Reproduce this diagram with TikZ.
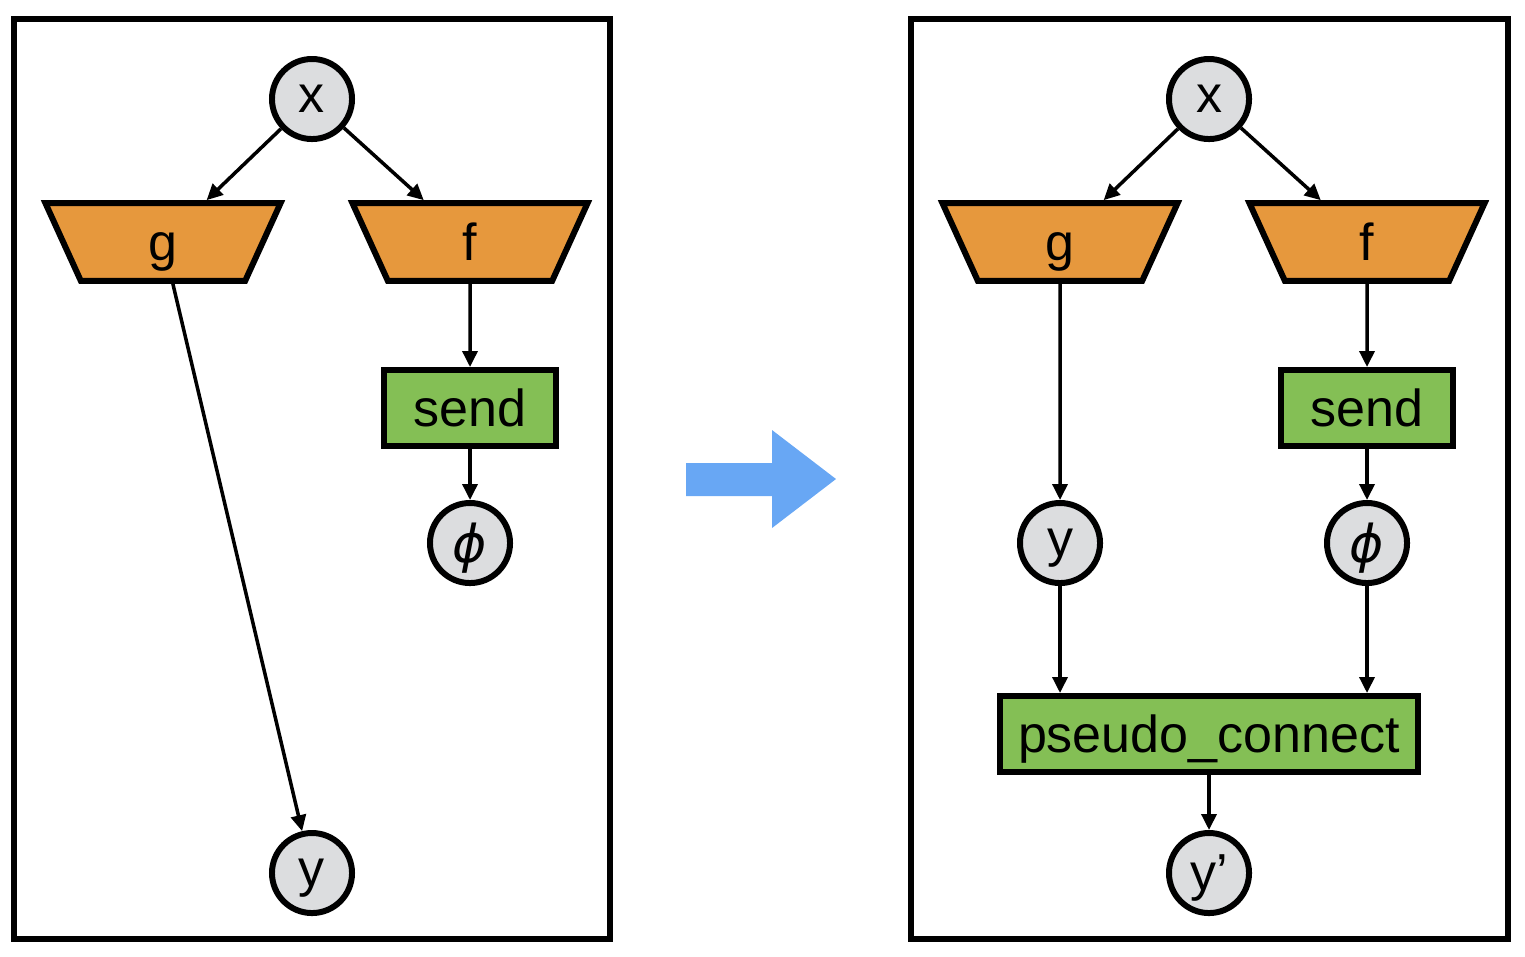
\documentclass[tikz,border=0pt]{standalone}
\usepackage{fontspec}
\setmainfont{Liberation Sans}
\newfontfamily\greekfont{DejaVu Sans}
\definecolor{varfill}{RGB}{220, 221, 223}
\definecolor{opfill}{RGB}{230, 152, 61}
\definecolor{commfill}{RGB}{132, 191, 85}
\definecolor{flowblue}{RGB}{104, 167, 244}
\usetikzlibrary{shapes.geometric, arrows.meta}
\tikzset{
    every node/.style={font=\fontsize{14.8}{17}\selectfont, text depth=0pt},
    var/.style={circle, draw, line width=1.7pt, fill=varfill,
        minimum size=0.8cm, inner sep=0pt},
    op/.style={trapezium, draw, line width=1.7pt, fill=opfill,
        shape border rotate=180, trapezium stretches body,
        trapezium left angle=65.5, trapezium right angle=65.5,
        text height=10.6pt, inner ysep=5.75pt, inner xsep=0pt,
        minimum width=2.35cm},
    comm/.style={rectangle, draw, line width=1.7pt, fill=commfill,
        minimum height=0.76cm, inner sep=2pt},
    flow/.style={-{Triangle[length=0.16cm, width=0.15cm]}, line width=1pt},
    panel/.style={line width=1.7pt},
}

\begin{document}
\begin{tikzpicture}[x=0.01cm, y=-0.01cm]
        \useasboundingbox (0, 0) rectangle (1525, 956);
        % before
        \draw[panel] (14, 19) rectangle (610, 939);
        \node[var] (x1) at (312, 99) {x};
        \node[op] (g1) at (163, 242) {g};
        \node[op] (f1) at (470, 242) {f};
        \node[comm, minimum width=1.72cm] (send1) at (470, 408) {send};
        \node[var] (phi1) at (470, 543) {\greekfont\itshape ϕ};
        \node[var] (y1) at (312, 873) {y};
        \draw[flow] (x1) -- (g1);
        \draw[flow] (x1) -- (f1);
        \draw[flow] (g1) -- (y1);
        \draw[flow] (f1) -- (send1);
        \draw[flow] (send1) -- (phi1);
        % transform
        \fill[flowblue] (686, 463) -- (772, 463) -- (772, 430) -- (836, 479)
            -- (772, 528) -- (772, 496) -- (686, 496) -- cycle;
        % after
        \draw[panel] (911, 19) rectangle (1508, 939);
        \node[var] (x2) at (1209, 99) {x};
        \node[op] (g2) at (1060, 242) {g};
        \node[op] (f2) at (1367, 242) {f};
        \node[comm, minimum width=1.72cm] (send2) at (1367, 408) {send};
        \node[var] (y2) at (1060, 543) {y};
        \node[var] (phi2) at (1367, 543) {\greekfont\itshape ϕ};
        \node[comm, minimum width=4.18cm] (pconn) at (1209, 734)
            {pseudo\_connect};
        \node[var] (yp) at (1209, 873) {y’};
        \draw[flow] (x2) -- (g2);
        \draw[flow] (x2) -- (f2);
        \draw[flow] (g2) -- (y2);
        \draw[flow] (f2) -- (send2);
        \draw[flow] (send2) -- (phi2);
        \draw[flow] (y2) -- (y2 |- pconn.north);
        \draw[flow] (phi2) -- (phi2 |- pconn.north);
        \draw[flow] (pconn) -- (yp);
    \end{tikzpicture}
\end{document}
